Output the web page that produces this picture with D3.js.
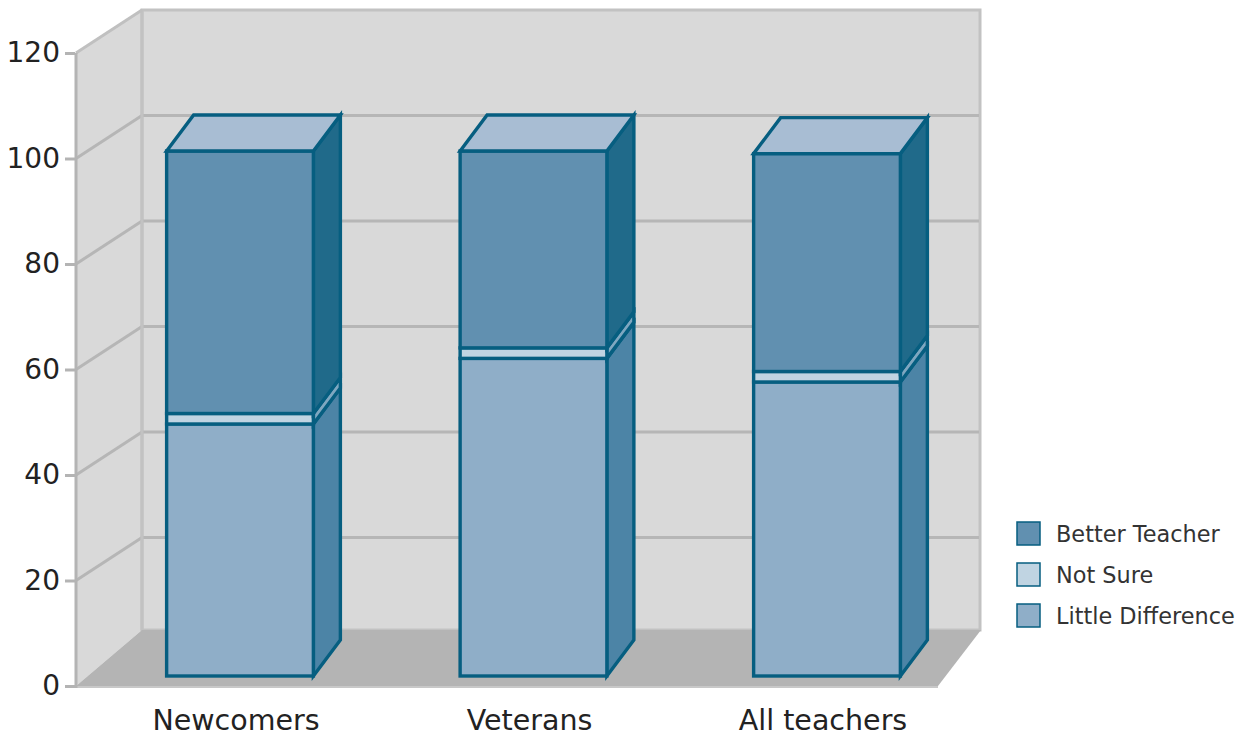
<!DOCTYPE html>
<html><head><meta charset="utf-8">
<script src="https://cdn.jsdelivr.net/npm/d3@7"></script>
<style>
html,body{margin:0;padding:0;background:#fff;}
svg{display:block;font-family:"DejaVu Sans",Verdana,sans-serif;}
</style></head>
<body>
<svg id="chart" width="1251" height="736"></svg>
<script>
// ---- data ----
const categories = ["Newcomers", "Veterans", "All teachers"];
const seriesNames = ["Little Difference", "Not Sure", "Better Teacher"];
const littleDifference = [48, 60.5, 56];
const notSure = [2, 2, 2];
const betterTeacher = [50, 37.5, 41.5];
const yTicks = [0, 20, 40, 60, 80, 100, 120];

// ---- styles ----
const frontCol = {"Little Difference": "#8faec8", "Not Sure": "#c0d4e2", "Better Teacher": "#6190b0"};
const sideCol  = {"Little Difference": "#4c84a6", "Not Sure": "#7ea7c0", "Better Teacher": "#206a8a"};
const topCol = "#a8bdd3";
const edge = "#065e80";

const svg = d3.select("#chart");

// scales
const yFront = d3.scaleLinear().domain([0, 120]).range([686, 53]);
const yBack  = d3.scaleLinear().domain([0, 120]).range([643, 10]);
const yBar   = d3.scaleLinear().domain([0, 120]).range([676, 46]);
const x = d3.scaleBand().domain(categories).range([93.25, 973.75]).paddingInner(0.5).paddingOuter(0.25);

const backL = 142, backR = 980, backTop = 10, backBottom = 630, frontL = 76, floorFrontR = 938;
const depthX = 27, depthY = -36;

// walls
svg.append("polygon").attr("points", [[frontL, yFront(120)], [backL, backTop], [backL, backBottom], [frontL, yFront(0)]].join(" "))
  .attr("fill", "#d9d9d9");
svg.append("rect").attr("x", backL).attr("y", backTop).attr("width", backR - backL).attr("height", backBottom - backTop)
  .attr("fill", "#d9d9d9").attr("stroke", "#c2c2c2").attr("stroke-width", 3);

// gridlines
const gv = yTicks.filter(v => v > 0 && v < 120);
svg.selectAll(".gback").data(gv).join("line")
  .attr("x1", backL).attr("x2", backR - 1).attr("y1", d => yBack(d)).attr("y2", d => yBack(d))
  .attr("stroke", "#b6b6b6").attr("stroke-width", 3);
svg.selectAll(".gside").data(gv).join("line")
  .attr("x1", frontL).attr("x2", backL).attr("y1", d => yFront(d)).attr("y2", d => yBack(d))
  .attr("stroke", "#b6b6b6").attr("stroke-width", 3);
svg.append("line").attr("x1", backL).attr("x2", backL).attr("y1", backTop).attr("y2", backBottom)
  .attr("stroke", "#c2c2c2").attr("stroke-width", 3);
svg.append("line").attr("x1", frontL).attr("y1", yFront(120)).attr("x2", backL).attr("y2", backTop)
  .attr("stroke", "#c0c0c0").attr("stroke-width", 3);

// floor
svg.append("polygon").attr("points", [[frontL, yFront(0)], [backL, backBottom], [backR + 1, backBottom], [floorFrontR, yFront(0)]].join(" "))
  .attr("fill", "#b4b4b4");
svg.append("line").attr("x1", frontL).attr("x2", floorFrontR).attr("y1", yFront(0) + 1).attr("y2", yFront(0) + 1)
  .attr("stroke", "#c8c8c8").attr("stroke-width", 2);
svg.append("line").attr("x1", frontL).attr("x2", frontL).attr("y1", yFront(120)).attr("y2", yFront(0) + 2)
  .attr("stroke", "#b4b4b4").attr("stroke-width", 3);

// y axis
const axis = d3.axisLeft(yFront).tickValues(yTicks).tickSize(10).tickPadding(5).tickFormat(d3.format("d"));
const ag = svg.append("g").attr("transform", `translate(${frontL - 1},0)`).call(axis);
ag.select(".domain").remove();
ag.selectAll(".tick line").attr("stroke", "#b4b4b4").attr("stroke-width", 3);
ag.selectAll(".tick text").attr("fill", "#222").style("font-size", "28px").style("font-family", '"DejaVu Sans",Verdana,sans-serif');

// bars
const stackData = categories.map((c, i) => ({cat: c, "Little Difference": littleDifference[i], "Not Sure": notSure[i], "Better Teacher": betterTeacher[i]}));
const stack = d3.stack().keys(seriesNames)(stackData);
const barsG = svg.append("g");
categories.forEach((c, i) => {
  const x0 = x(c), x1 = x(c) + x.bandwidth();
  const g = barsG.append("g");
  stack.forEach((layer, li) => {
    const key = layer.key;
    const v0 = layer[i][0], v1 = layer[i][1];
    const yb = yBar(v0), yt = yBar(v1);
    g.append("polygon")
      .attr("points", [[x1, yb], [x1 + depthX, yb + depthY], [x1 + depthX, yt + depthY], [x1, yt]].join(" "))
      .attr("fill", sideCol[key]).attr("stroke", edge).attr("stroke-width", 3.4).attr("stroke-linejoin", "miter");
    g.append("rect").attr("x", x0).attr("y", yt).attr("width", x1 - x0).attr("height", yb - yt)
      .attr("fill", frontCol[key]).attr("stroke", edge).attr("stroke-width", 3.4);
    if (li === stack.length - 1) {
      g.append("polygon")
        .attr("points", [[x0, yt], [x0 + depthX, yt + depthY], [x1 + depthX, yt + depthY], [x1, yt]].join(" "))
        .attr("fill", topCol).attr("stroke", edge).attr("stroke-width", 3.4).attr("stroke-linejoin", "miter");
    }
  });
});

// category labels
svg.selectAll(".cat").data(categories).join("text")
  .attr("x", d => x(d) + x.bandwidth() / 2 - 4).attr("y", 730)
  .attr("text-anchor", "middle").attr("fill", "#222").style("font-size", "28.5px")
  .text(d => d);

// legend
const legendItems = ["Better Teacher", "Not Sure", "Little Difference"];
const lg = svg.append("g");
legendItems.forEach((k, i) => {
  const yy = 522 + i * 41;
  lg.append("rect").attr("x", 1017).attr("y", yy).attr("width", 23).attr("height", 23)
    .attr("fill", frontCol[k]).attr("stroke", edge).attr("stroke-width", 1.5);
  lg.append("text").attr("x", 1056).attr("y", yy + 12).attr("dy", "0.35em")
    .attr("fill", "#333").style("font-size", "22.4px").text(k);
});
</script>
</body></html>
